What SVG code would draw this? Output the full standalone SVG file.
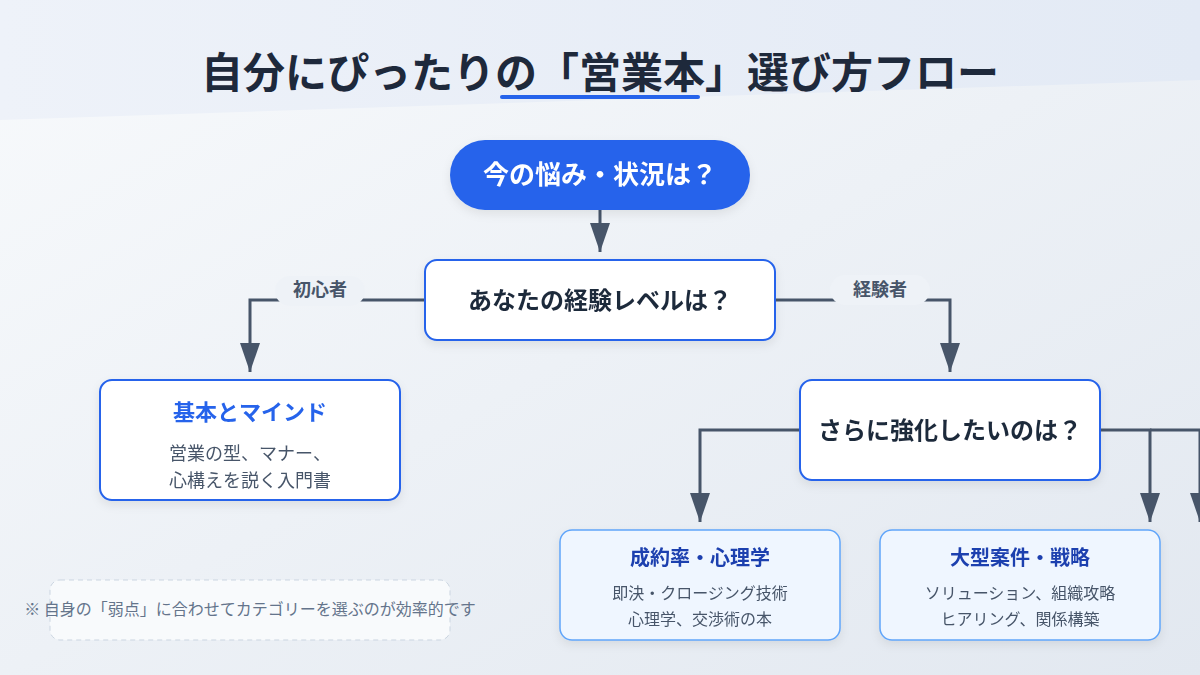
<svg xmlns="http://www.w3.org/2000/svg" width="1200" height="675" viewBox="0 0 1200 675">
  <defs>
    <linearGradient id="bg" x1="0" y1="0" x2="1" y2="1">
      <stop offset="0" stop-color="#f8fafc"/>
      <stop offset="1" stop-color="#e2e8f0"/>
    </linearGradient>
    <linearGradient id="band" x1="0" y1="0" x2="1" y2="0">
      <stop offset="0" stop-color="#eef2f9"/>
      <stop offset="1" stop-color="#e3eaf5"/>
    </linearGradient>
    <filter id="shadow" x="-20%" y="-20%" width="140%" height="150%">
      <feDropShadow dx="0" dy="4" stdDeviation="5" flood-color="#0f172a" flood-opacity="0.08"/>
    </filter>
    <marker id="arrow" viewBox="0 0 29 20" refX="29" refY="10" markerWidth="29" markerHeight="20" markerUnits="userSpaceOnUse" orient="auto">
      <path d="M0,0 L29,10 L0,20 Z" fill="#475569"/>
    </marker>
    <style>
      text { font-family: "Noto Sans CJK JP", "Noto Sans", sans-serif; text-anchor: middle; }
      .title { font-size: 42px; font-weight: 700; fill: #1e293b; }
      .q { fill: #ffffff; stroke: #2563eb; stroke-width: 2; }
      .qt { font-size: 24px; font-weight: 700; fill: #1e293b; }
      .res { fill: #eff6ff; stroke: #60a5fa; stroke-width: 1.5; }
      .rt { font-size: 20px; font-weight: 700; fill: #1e40af; }
      .desc { font-size: 16px; fill: #475569; }
      .edge { fill: none; stroke: #475569; stroke-width: 3; }
      .lbl { font-size: 18px; font-weight: 700; fill: #475569; }
    </style>
  </defs>

  <rect width="1200" height="675" fill="url(#bg)"/>
  <polygon points="0,0 1200,0 1200,80 0,120" fill="url(#band)"/>

  <g id="title">
    <text class="title" x="600" y="88">自分にぴったりの「営業本」選び方フロー</text>
    <rect x="500" y="95" width="200" height="4" rx="2" fill="#2563eb"/>
  </g>

  <g id="connectors">
    <path class="edge" d="M600,210 L600,252" marker-end="url(#arrow)"/>
    <path class="edge" d="M425,300 L250,300 L250,372" marker-end="url(#arrow)"/>
    <path class="edge" d="M775,300 L950,300 L950,372" marker-end="url(#arrow)"/>
    <path class="edge" d="M800,430 L700,430 L700,522" marker-end="url(#arrow)"/>
    <path class="edge" d="M1100,430 L1150,430 L1150,522" marker-end="url(#arrow)"/>
    <path class="edge" d="M1150,430 L1200,430 L1200,522" marker-end="url(#arrow)"/>
    <g id="label-beginner">
      <rect x="275" y="276" width="90" height="30" rx="15" fill="#eef2f7"/>
      <text class="lbl" x="320" y="296">初心者</text>
    </g>
    <g id="label-experienced">
      <rect x="830" y="275" width="100" height="30" rx="15" fill="#eef2f7"/>
      <text class="lbl" x="880" y="296">経験者</text>
    </g>
  </g>

  <g id="start" filter="url(#shadow)">
    <rect x="450" y="140" width="300" height="70" rx="35" fill="#2563eb"/>
    <text x="600" y="184" style="font-size:26px;font-weight:700;fill:#ffffff">今の悩み・状況は？</text>
  </g>

  <g id="q-level" filter="url(#shadow)">
    <rect class="q" x="425" y="260" width="350" height="80" rx="12"/>
    <text class="qt" x="600" y="309">あなたの経験レベルは？</text>
  </g>

  <g id="basic" filter="url(#shadow)">
    <rect class="q" x="100" y="380" width="300" height="120" rx="12"/>
    <text x="250" y="420" style="font-size:22px;font-weight:700;fill:#2563eb">基本とマインド</text>
    <text class="desc" x="250" y="460" style="font-size:18px">営業の型、マナー、</text>
    <text class="desc" x="250" y="487" style="font-size:18px">心構えを説く入門書</text>
  </g>

  <g id="q-strengthen" filter="url(#shadow)">
    <rect class="q" x="800" y="380" width="300" height="100" rx="12"/>
    <text class="qt" x="950" y="439">さらに強化したいのは？</text>
  </g>

  <g id="closing" filter="url(#shadow)">
    <rect class="res" x="560" y="530" width="280" height="110" rx="12"/>
    <text class="rt" x="700" y="565">成約率・心理学</text>
    <text class="desc" x="700" y="599">即決・クロージング技術</text>
    <text class="desc" x="700" y="625">心理学、交渉術の本</text>
  </g>

  <g id="strategy" filter="url(#shadow)">
    <rect class="res" x="880" y="530" width="280" height="110" rx="12"/>
    <text class="rt" x="1020" y="565">大型案件・戦略</text>
    <text class="desc" x="1020" y="599">ソリューション、組織攻略</text>
    <text class="desc" x="1020" y="625">ヒアリング、関係構築</text>
  </g>

  <g id="note">
    <rect x="50" y="580" width="400" height="60" rx="10" fill="#f8fafc" stroke="#cbd5e1" stroke-width="1" stroke-dasharray="5,4"/>
    <text x="250" y="615" style="font-size:16px;fill:#64748b">※ 自身の「弱点」に合わせてカテゴリーを選ぶのが効率的です</text>
  </g>
</svg>
